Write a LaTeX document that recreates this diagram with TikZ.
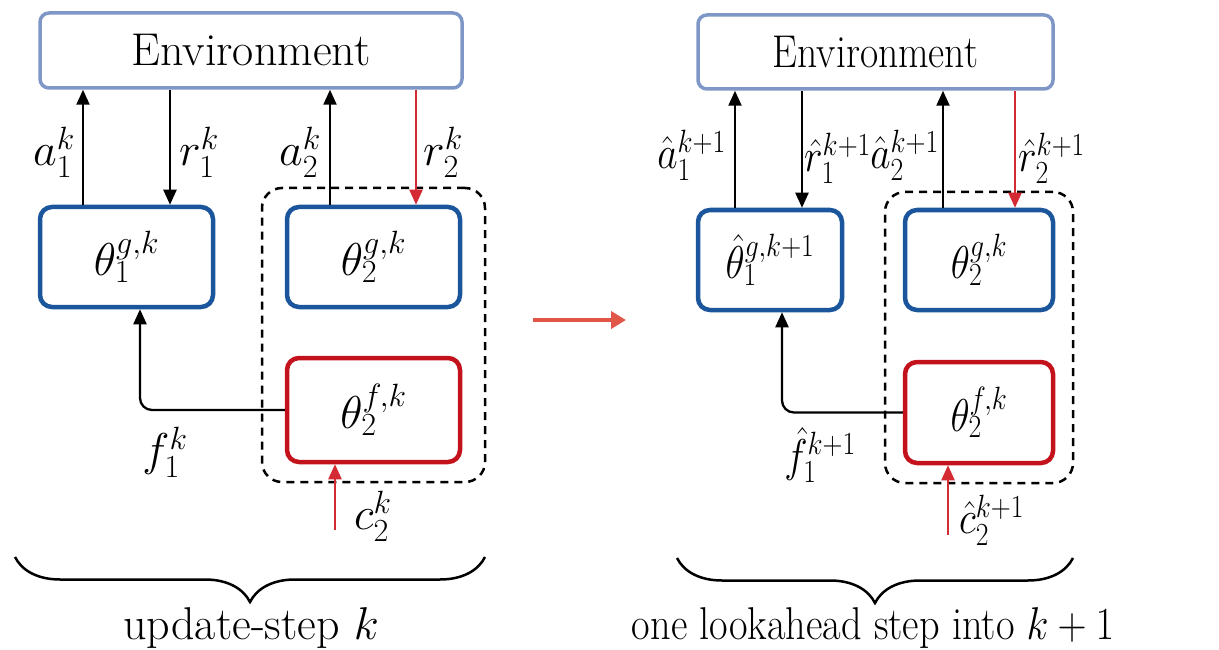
\RequirePackage{fix-cm}
\documentclass[tikz,border=0pt]{standalone}
\usepackage{graphicx}
\usetikzlibrary{arrows.meta,decorations.pathreplacing}
\definecolor{envblue}{HTML}{7E97C6}
\definecolor{boxblue}{HTML}{1B559C}
\definecolor{boxred}{HTML}{C4121C}
\definecolor{arrred}{HTML}{D42A34}
\definecolor{midred}{HTML}{E0574A}
\newcommand{\envfnt}{\fontsize{46}{52}\selectfont}
\newcommand{\labfnt}{\fontsize{46}{52}\selectfont}
\newcommand{\capfnt}{\fontsize{46}{52}\selectfont}
\newcommand{\sq}[1]{\scalebox{0.86}[1]{#1}}
\tikzset{
  envbox/.style={draw=envblue, line width=3.5pt, rounded corners=9pt, fill=white, inner sep=0pt, font=\envfnt},
  gbox/.style={draw=boxblue, line width=4.5pt, rounded corners=12pt, fill=white, inner sep=0pt, font=\labfnt},
  fbox/.style={draw=boxred, line width=4.5pt, rounded corners=12pt, fill=white, inner sep=0pt, font=\labfnt},
  dbox/.style={draw=black, dash pattern=on 8pt off 6pt, line width=2.5pt, rounded corners=20pt, inner sep=0pt},
  arr/.style={-{Triangle[length=15pt,width=13pt]}, line width=2.3pt},
  rarr/.style={arr, draw=arrred, color=arrred},
  lab/.style={font=\labfnt, inner sep=1pt},
  capt/.style={font=\capfnt, inner sep=0pt},
  bracestyle/.style={decorate, decoration={brace, mirror, amplitude=45pt}, line width=2.5pt}
}
\begin{document}
\begin{tikzpicture}[x=1pt,y=-1pt]
\useasboundingbox[fill=white] (0,0) rectangle (1219,650);

% ---------- left panel ----------
\node[dbox, minimum width=223pt, minimum height=294pt] (dl) at (373.5,335) {};
\node[envbox, minimum width=422pt, minimum height=75pt] (envl) at (251,50.5) {Environment};
\node[gbox, minimum width=173pt, minimum height=100pt] (t1l) at (126.5,257) {$\theta_1^{g,k}$};
\node[gbox, minimum width=173pt, minimum height=100pt] (t2l) at (373.5,257) {$\theta_2^{g,k}$};
\node[fbox, minimum width=173pt, minimum height=104pt] (f2l) at (373.5,410) {$\theta_2^{f,k}$};

\coordinate (xa1l) at (83,0);
\coordinate (xr1l) at (170,0);
\coordinate (xa2l) at (330,0);
\coordinate (xr2l) at (416,0);
\coordinate (xfl) at (140,0);
\coordinate (cl) at (335,530);

\draw[arr] (t1l.north -| xa1l) -- (envl.south -| xa1l);
\draw[arr] (envl.south -| xr1l) -- (t1l.north -| xr1l);
\draw[arr] (t2l.north -| xa2l) -- (envl.south -| xa2l);
\draw[rarr] (envl.south -| xr2l) -- (t2l.north -| xr2l);
\draw[arr, rounded corners=12pt] (f2l.west) -| (t1l.south -| xfl);
\draw[rarr] (cl) -- (f2l.south -| cl);

\node[lab, anchor=east] (la1l) at (76,152) {$a_1^k$};
\node[lab, anchor=west] (lr1l) at (178,152) {$r_1^k$};
\node[lab, anchor=east] (la2l) at (322,152) {$a_2^k$};
\node[lab, anchor=west] (lr2l) at (422,152) {$r_2^k$};
\node[lab] (lfl) at (165,452) {$f_1^k$};
\node[lab, anchor=west] (lcl) at (353,516) {$c_2^k$};

\coordinate (b1l) at (15,557);
\coordinate (b1r) at (485,557);
\draw[bracestyle] (b1l) -- (b1r);
\node[capt] (capl) at (251,628) {update-step $k$};

% ---------- middle arrow ----------
\coordinate (m1) at (533,320);
\coordinate (m2) at (626,320);
\draw[line width=4.5pt, midred, -{Triangle[length=15pt,width=17pt]}] (m1) -- (m2);

% ---------- right panel ----------
\node[dbox, minimum width=188pt, minimum height=291pt] (dr) at (979,337.5) {};
\node[envbox, minimum width=355pt, minimum height=74pt] (envr) at (875.5,52) {\sq{Environment}};
\node[gbox, minimum width=144pt, minimum height=100pt] (t1r) at (770,260) {\sq{$\hat\theta_1^{g,k+1}$}};
\node[gbox, minimum width=148pt, minimum height=100pt] (t2r) at (979,260) {\sq{$\theta_2^{g,k}$}};
\node[fbox, minimum width=148pt, minimum height=101pt] (f2r) at (979,412.5) {\sq{$\theta_2^{f,k}$}};

\coordinate (xa1r) at (735,0);
\coordinate (xr1r) at (802,0);
\coordinate (xa2r) at (943,0);
\coordinate (xr2r) at (1015,0);
\coordinate (xfr) at (782,0);
\coordinate (cr) at (948,535);

\draw[arr] (t1r.north -| xa1r) -- (envr.south -| xa1r);
\draw[arr] (envr.south -| xr1r) -- (t1r.north -| xr1r);
\draw[arr] (t2r.north -| xa2r) -- (envr.south -| xa2r);
\draw[rarr] (envr.south -| xr2r) -- (t2r.north -| xr2r);
\draw[arr, rounded corners=12pt] (f2r.west) -| (t1r.south -| xfr);
\draw[rarr] (cr) -- (f2r.south -| cr);

\node[lab, anchor=east] (la1r) at (727,155) {\sq{$\hat a_1^{k+1}$}};
\node[lab, anchor=west] (lr1r) at (803,158) {\sq{$\hat r_1^{k+1}$}};
\node[lab, anchor=east] (la2r) at (940,155) {\sq{$\hat a_2^{k+1}$}};
\node[lab, anchor=west] (lr2r) at (1017,158) {\sq{$\hat r_2^{k+1}$}};
\node[lab] (lfr) at (820,455) {\sq{$\hat f_1^{k+1}$}};
\node[lab, anchor=west] (lcr) at (958,520) {\sq{$\hat c_2^{k+1}$}};

\coordinate (b2l) at (677,558);
\coordinate (b2r) at (1073,558);
\draw[bracestyle] (b2l) -- (b2r);
\node[capt] (capr) at (873,628) {\scalebox{0.877}[1]{one lookahead step into $k+1$}};
\end{tikzpicture}
\end{document}
